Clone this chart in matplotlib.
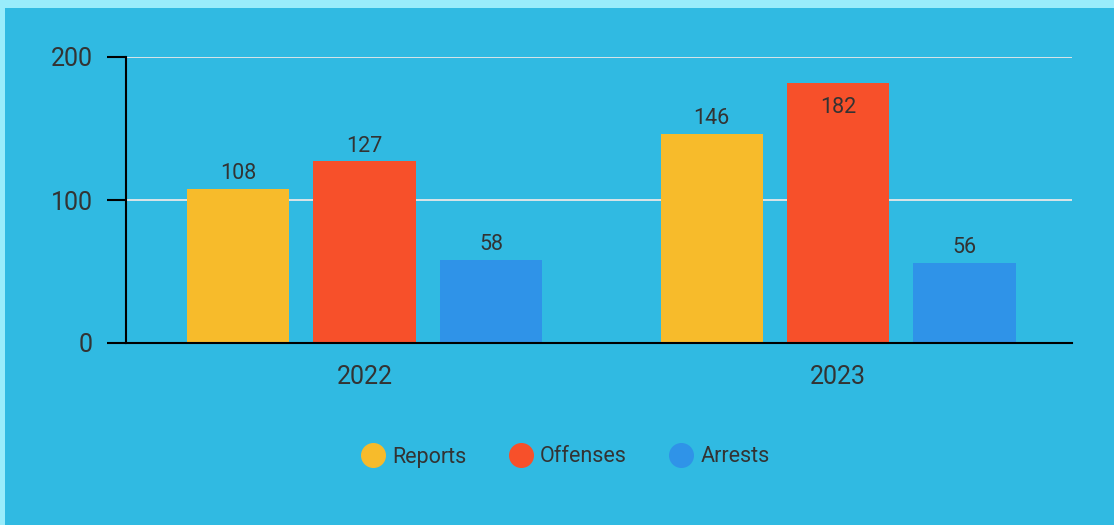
import matplotlib.pyplot as plt
from matplotlib.patches import Rectangle
from matplotlib.lines import Line2D
import numpy as np

years = ["2022", "2023"]
series = ["Reports", "Offenses", "Arrests"]
reports = [108, 146]
offenses = [127, 182]
arrests = [58, 56]
colors = ["#f7bb2b", "#f7502a", "#2f93e8"]

plt.rcParams['font.family'] = ['Roboto', 'DejaVu Sans']
txt = "#333333"
bg = "#30bae2"
strip = "#99ecfb"

fig = plt.figure(figsize=(11.14, 5.25), dpi=100)
fig.patch.set_facecolor(bg)
# light strips along the top and left edges
fig.patches.append(Rectangle((0, 1 - 8/525), 1, 8/525, transform=fig.transFigure,
                             facecolor=strip, edgecolor="none"))
fig.patches.append(Rectangle((0, 0), 5/1114, 1, transform=fig.transFigure,
                             facecolor=strip, edgecolor="none"))

ax = fig.add_axes([126/1114, 1 - 343/525, 946/1114, 286/525])
ax.set_facecolor(bg)
ax.set_zorder(2)

x = np.arange(len(years))
w = 0.216
off = 0.267
for i, (vals, c) in enumerate(zip([reports, offenses, arrests], colors)):
    pos = x + (i - 1) * off
    ax.bar(pos, vals, width=w, color=c, zorder=3)
    for p, v in zip(pos, vals):
        if v > 170:
            ax.annotate(str(v), (p, v), xytext=(0, -18), textcoords="offset points",
                        ha="center", va="center", fontsize=15.5, color=txt, zorder=4)
        else:
            ax.annotate(str(v), (p, v), xytext=(0, 11), textcoords="offset points",
                        ha="center", va="center", fontsize=15.5, color=txt, zorder=4)

ax.set_xlim(-0.504, 1.494)
ax.set_ylim(0, 200)
ax.set_yticks([0, 100, 200])
ax.set_xticks(x)
ax.set_xticklabels(years)
ax.grid(axis="y", color="#e8e8e8", linewidth=1.3, zorder=1)
ax.tick_params(axis="y", length=14, width=1.5, color="black", labelsize=18,
               labelcolor=txt, pad=10)
ax.tick_params(axis="x", length=0, labelsize=18, labelcolor=txt, pad=16)
for s in ["top", "right"]:
    ax.spines[s].set_visible(False)
for s in ["left", "bottom"]:
    ax.spines[s].set_linewidth(1.5)
    ax.spines[s].set_color("black")
    ax.spines[s].set_zorder(5)

handles = [Line2D([], [], marker="o", linestyle="none", markersize=17,
                  markerfacecolor=c, markeredgecolor=c) for c in colors]
fig.legend(handles, series, loc="center", bbox_to_anchor=(566/1114, 1 - 457/525),
           ncol=3, frameon=False, fontsize=15.5, labelcolor=txt, handletextpad=0.4,
           columnspacing=2.0, handlelength=1.0)

fig.savefig("out.png", dpi=100, facecolor=fig.get_facecolor())
